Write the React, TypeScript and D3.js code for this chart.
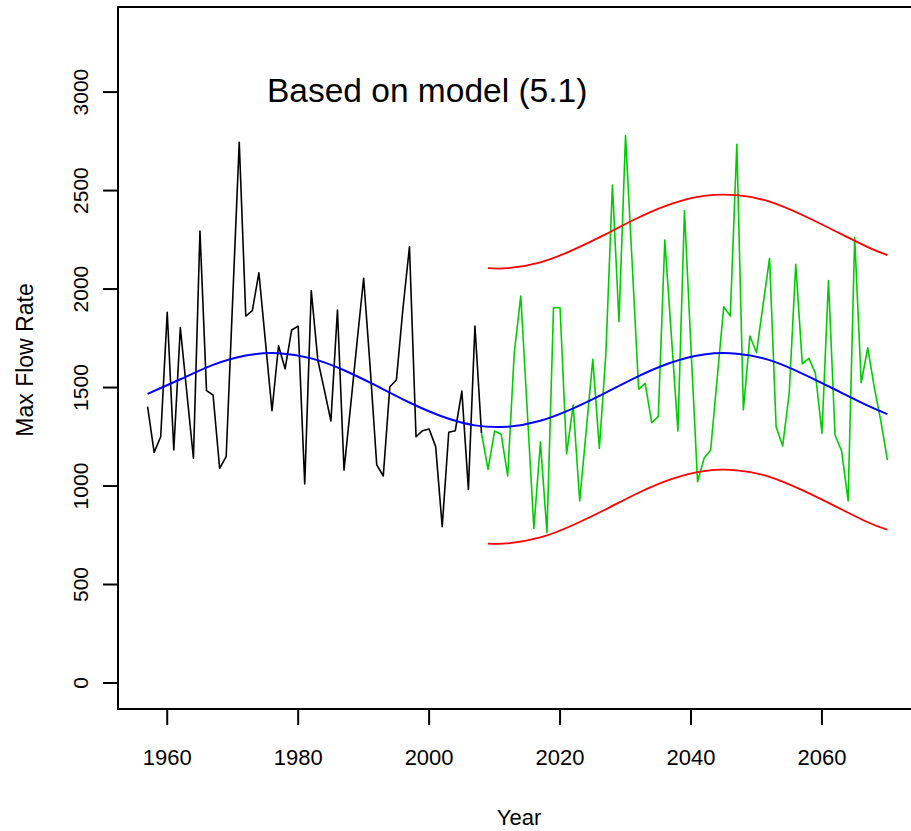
import React from "react";
import * as d3 from "d3";

const W = 911;
const H = 831;

// Observed annual maximum flow rate (black)
const obsStartYear = 1957;
const observed = [
  1403, 1171, 1250, 1882, 1183, 1804, 1472, 1141, 2295, 1484,
  1462, 1090, 1149, 1950, 2745, 1863, 1890, 2083, 1733, 1382,
  1712, 1595, 1792, 1812, 1010, 1992, 1640, 1487, 1330, 1894,
  1081, 1403, 1733, 2055, 1600, 1107, 1051, 1504, 1538, 1900,
  2215, 1250, 1281, 1290, 1200, 794, 1273, 1281, 1482, 983,
  1812, 1268,
];

// Simulated future flow (green), starting from last observation
const simStartYear = 2008;
const simulated = [
  1268, 1085, 1279, 1263, 1051, 1674, 1965, 1376, 785, 1223,
  763, 1905, 1905, 1163, 1411, 924, 1284, 1643, 1191, 1674,
  2528, 1834, 2779, 2140, 1491, 1521, 1322, 1352, 2249, 1765,
  1279, 2398, 1700, 1022, 1141, 1183, 1547, 1910, 1863, 2735,
  1386, 1762, 1677, 1918, 2156, 1301, 1203, 1471, 2126, 1620,
  1648, 1572, 1268, 2043, 1259, 1178, 924, 2263, 1525, 1702,
  1500, 1330, 1132,
];

// Fitted model curve (blue)
const fitYears = [1957, 1962, 1967, 1972, 1977, 1982, 1987, 1992, 1997, 2002, 2007, 2012, 2017, 2022, 2027, 2032, 2037, 2042, 2047, 2052, 2057, 2062, 2067, 2070];
const fitValues = [1468, 1542, 1615, 1663, 1674, 1648, 1588, 1508, 1424, 1353, 1308, 1301, 1331, 1394, 1474, 1558, 1627, 1668, 1672, 1639, 1571, 1490, 1408, 1365];

// Prediction band (red)
const bandYears = [2009, 2012, 2017, 2022, 2027, 2032, 2037, 2042, 2047, 2052, 2057, 2062, 2067, 2070];
const bandUpper = [2106, 2106, 2136, 2199, 2279, 2363, 2432, 2473, 2477, 2444, 2376, 2295, 2213, 2172];
const bandLower = [708, 709, 739, 802, 882, 966, 1035, 1076, 1080, 1047, 979, 898, 816, 778];

const xTicks = [1960, 1980, 2000, 2020, 2040, 2060];
const yTicks = [0, 500, 1000, 1500, 2000, 2500, 3000];

const title = "Based on model (5.1)";
const xLabel = "Year";
const yLabel = "Max Flow Rate";

const FONT = "'Liberation Sans', Arial, Helvetica, sans-serif";

export default function App() {
  const left = 118, right = 917, top = 7, bottom = 709;
  const x = d3.scaleLinear().domain([1952.48, 2074.52]).range([left, right]);
  const y = d3.scaleLinear().domain([-132, 3432]).range([bottom, top]);

  const line = d3
    .line<[number, number]>()
    .x((d) => x(d[0]))
    .y((d) => y(d[1]));
  const smooth = d3
    .line<[number, number]>()
    .x((d) => x(d[0]))
    .y((d) => y(d[1]))
    .curve(d3.curveNatural);

  const obsPts: [number, number][] = observed.map((v, i) => [obsStartYear + i, v]);
  const simPts: [number, number][] = simulated.map((v, i) => [simStartYear + i, v]);
  const fitPts: [number, number][] = fitYears.map((yr, i) => [yr, fitValues[i]]);
  const upPts: [number, number][] = bandYears.map((yr, i) => [yr, bandUpper[i]]);
  const loPts: [number, number][] = bandYears.map((yr, i) => [yr, bandLower[i]]);

  return (
    <div style={{ position: "absolute", left: 0, top: 0 }}>
      <svg width={W} height={H} style={{ display: "block", background: "#fff" }}>
        <defs>
          <clipPath id="plotClip">
            <rect x={left} y={top} width={right - left} height={bottom - top} />
          </clipPath>
        </defs>
        <rect x={0} y={0} width={W} height={H} fill="#fff" />
        <g clipPath="url(#plotClip)" fill="none" strokeLinejoin="round">
          <path d={line(obsPts) || ""} stroke="#000" strokeWidth={1.6} />
          <path d={line(simPts) || ""} stroke="#00CD00" strokeWidth={1.6} />
          <path d={smooth(upPts) || ""} stroke="#FF0000" strokeWidth={1.8} />
          <path d={smooth(loPts) || ""} stroke="#FF0000" strokeWidth={1.8} />
          <path d={smooth(fitPts) || ""} stroke="#0000FF" strokeWidth={2} />
        </g>
        <rect x={left} y={top} width={right - left} height={bottom - top} fill="none" stroke="#000" strokeWidth={2} />
        {xTicks.map((t) => (
          <g key={"x" + t}>
            <line x1={x(t)} x2={x(t)} y1={bottom} y2={bottom + 16} stroke="#000" strokeWidth={2} />
            <text x={x(t)} y={765} textAnchor="middle" fontFamily={FONT} fontSize={22} fill="#000">
              {t}
            </text>
          </g>
        ))}
        {yTicks.map((t) => (
          <g key={"y" + t}>
            <line x1={left - 15} x2={left} y1={y(t)} y2={y(t)} stroke="#000" strokeWidth={2} />
            <text
              transform={`translate(88,${y(t)}) rotate(-90)`}
              textAnchor="middle"
              fontFamily={FONT}
              fontSize={21}
              fill="#000"
            >
              {t}
            </text>
          </g>
        ))}
        <text x={519} y={825} textAnchor="middle" fontFamily={FONT} fontSize={22} fill="#000">
          {xLabel}
        </text>
        <text transform="translate(33,360) rotate(-90)" textAnchor="middle" fontFamily={FONT} fontSize={23} fill="#000">
          {yLabel}
        </text>
        <text x={267} y={101.5} fontFamily={FONT} fontSize={33.5} fill="#000">
          {title}
        </text>
      </svg>
    </div>
  );
}
